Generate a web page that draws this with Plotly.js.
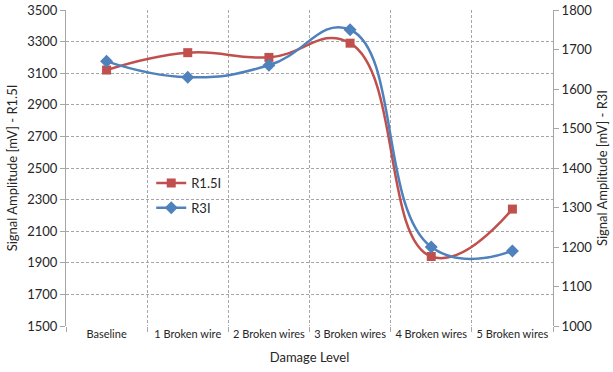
<!DOCTYPE html>
<html>
<head>
<meta charset="utf-8">
<script src="https://cdn.plot.ly/plotly-3.0.1.min.js"></script>
<style>html,body{margin:0;padding:0;background:#fff;}#chart{width:613px;height:372px;}</style>
</head>
<body>
<div id="chart"></div>
<script>
const categories = ['Baseline', '1 Broken wire', '2 Broken wires', '3 Broken wires', '4 Broken wires', '5 Broken wires'];
const r15Values = [3120, 3230, 3200, 3290, 1940, 2240];
const r3Values = [1670, 1630, 1660, 1750, 1200, 1190];
const leftTicks = [1500, 1700, 1900, 2100, 2300, 2500, 2700, 2900, 3100, 3300, 3500];
const rightTicks = [1000, 1100, 1200, 1300, 1400, 1500, 1600, 1700, 1800];

const FONT = 'Lato, "Open Sans", sans-serif';
const red = '#C0504D', blue = '#4F81BD';
const gridDash = '3px,2px';

const traces = [
  {
    x: categories, y: r15Values, name: 'R1.5I', type: 'scatter', mode: 'lines+markers',
    line: {color: red, width: 2.5, shape: 'spline', smoothing: 1.3},
    marker: {symbol: 'square', size: 9, color: red},
    yaxis: 'y', legendgroup: 'a'
  },
  {
    x: categories, y: r3Values, name: 'R3I', type: 'scatter', mode: 'lines+markers',
    line: {color: blue, width: 2.5, shape: 'spline', smoothing: 1.3},
    marker: {symbol: 'diamond', size: 10, color: blue},
    yaxis: 'y2', legendgroup: 'b'
  }
];

const layout = {
  width: 613, height: 372,
  margin: {l: 66, r: 60, t: 10, b: 46},
  paper_bgcolor: '#fff', plot_bgcolor: '#fff',
  font: {family: FONT, size: 12, color: '#262626'},
  showlegend: true,
  legend: {x: 0.175, y: 0.5, xanchor: 'left', yanchor: 'top', bgcolor: 'rgba(0,0,0,0)',
           font: {family: FONT, size: 13, color: '#262626'}, tracegroupgap: 5, traceorder: 'grouped', itemwidth: 30},
  xaxis: {
    type: 'category', tickson: 'boundaries', showgrid: true, gridcolor: '#a6a6a6', griddash: gridDash, gridwidth: 1,
    ticks: 'outside', ticklen: 5, tickcolor: '#a6a6a6', showline: false, zeroline: false, tickangle: 0,
    tickfont: {family: FONT, size: 11, color: '#262626'},
    title: {text: 'Damage Level', font: {family: FONT, size: 13, color: '#262626'}, standoff: 13},
    range: [-0.5, 5.5], fixedrange: true
  },
  yaxis: {
    range: [1500, 3500], tickvals: leftTicks, ticktext: leftTicks.map(String),
    showgrid: true, gridcolor: '#a6a6a6', griddash: gridDash, gridwidth: 1,
    showline: true, linecolor: '#a6a6a6', linewidth: 1, ticks: 'outside', ticklen: 5, tickcolor: '#a6a6a6',
    zeroline: false, tickfont: {family: FONT, size: 13, color: '#262626'},
    title: {text: 'Signal Amplitude [mV] - R1.5I', font: {family: FONT, size: 13, color: '#262626'}, standoff: 6}
  },
  yaxis2: {
    overlaying: 'y', side: 'right', range: [1000, 1800], tickvals: rightTicks, ticktext: rightTicks.map(String),
    showgrid: false, showline: true, linecolor: '#a6a6a6', linewidth: 1, ticks: 'outside', ticklen: 5, tickcolor: '#a6a6a6',
    zeroline: false, tickfont: {family: FONT, size: 13, color: '#262626'},
    title: {text: 'Signal Amplitude [mV] - R3I', font: {family: FONT, size: 13, color: '#262626'}, standoff: 6}
  }
};

Plotly.newPlot('chart', traces, layout, {displayModeBar: false, staticPlot: true});
</script>
</body>
</html>
